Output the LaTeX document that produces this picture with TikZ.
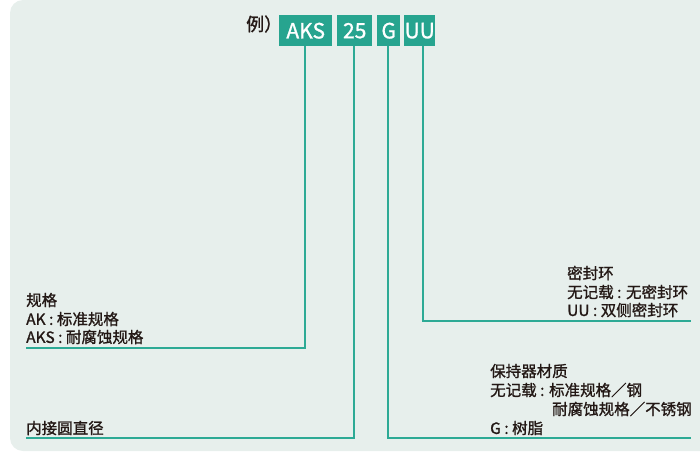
\documentclass[tikz,border=0pt]{standalone}
\usepackage{fontspec}
\setmainfont{Noto Sans CJK SC}
\newfontfamily\medfont{Noto Sans CJK SC}[FakeBold=1.2]
\definecolor{bgc}{HTML}{E7EFEC}
\definecolor{teal1}{HTML}{27A48F}
\definecolor{line1}{HTML}{2DAA95}
\definecolor{txt}{HTML}{231815}
\tikzset{
  codebox/.style={fill=teal1, text=white, inner sep=0pt, anchor=north west, font=\medfont\fontsize{21}{21}\selectfont},
  lbl/.style={anchor=west, inner sep=0pt, text=txt, font=\medfont\fontsize{15.5}{15.5}\selectfont, align=left},
  conn/.style={draw=line1, line width=1.1pt}
}
\begin{document}
\begin{tikzpicture}[x=1pt,y=-1pt]
\useasboundingbox (0,0) rectangle (700,451);
\begin{scope}
\clip (0,0) rectangle (700,451);
\fill[bgc, rounded corners=13pt] (10,0) rectangle (720,451);
\end{scope}
\node[anchor=west, inner sep=0pt, text=txt, font=\medfont\fontsize{18}{18}\selectfont] (ex) at (246,24) {例）};
\node[codebox, minimum width=53pt, minimum height=31pt] (b1) at (279,15) {AKS};
\node[codebox, minimum width=35pt, minimum height=31pt] (b2) at (337,15) {25};
\node[codebox, minimum width=23pt, minimum height=31pt] (b3) at (377,15) {G};
\node[codebox, minimum width=31pt, minimum height=31pt] (b4) at (404,15) {UU};
\coordinate (e1) at (26,348);
\coordinate (e2) at (26,438);
\coordinate (e3) at (691,438);
\coordinate (e4) at (691,321);
\draw[conn] (b1.south -| 305,0) -- (305,348) -- (e1);
\draw[conn] (b2.south -| 354,0) -- (354,438) -- (e2);
\draw[conn] (b3.south -| 388,0) -- (388,438) -- (e3);
\draw[conn] (b4.south -| 423,0) -- (423,321) -- (e4);
\node[lbl] (t1) at (26,300) {规格};
\node[lbl] (t2) at (26,319) {AK : 标准规格};
\node[lbl] (t3) at (26,337) {AKS : 耐腐蚀规格};
\node[lbl] (t4) at (26,428) {内接圆直径};
\node[lbl] (u1) at (567,273) {密封环};
\node[lbl] (u2) at (567,292) {无记载 : 无密封环};
\node[lbl] (u3) at (567,310) {UU : 双侧密封环};
\node[lbl] (g1) at (490,371) {保持器材质};
\node[lbl] (g2) at (490,390) {无记载 : 标准规格／钢};
\node[lbl] (g3) at (552,409) {耐腐蚀规格／不锈钢};
\node[lbl] (g4) at (490,428) {G : 树脂};
\end{tikzpicture}
\end{document}
